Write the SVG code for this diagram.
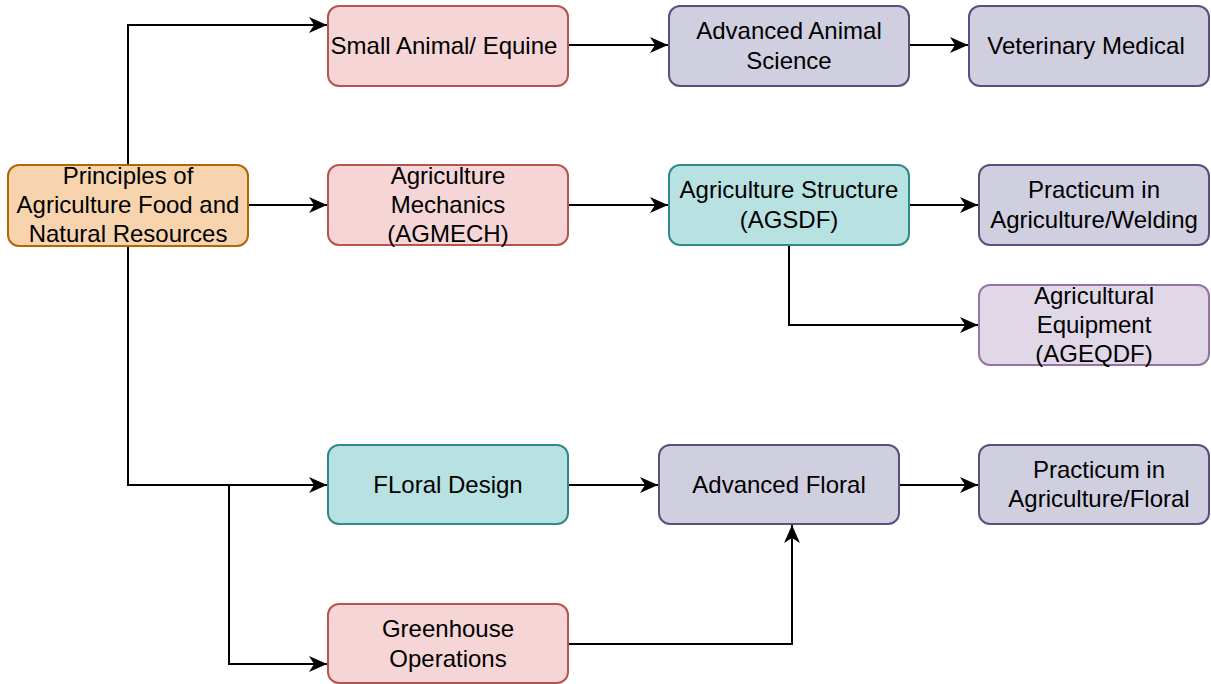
<svg xmlns="http://www.w3.org/2000/svg" width="1211" height="684" viewBox="0 0 1211 684">
<style>
  .box{stroke-width:2}
  .pink{fill:#f5d5d6;stroke:#b85450}
  .orange{fill:#f7d4ae;stroke:#b46504}
  .gray{fill:#d0cfe0;stroke:#56517e}
  .teal{fill:#b8e1e1;stroke:#2f8a8c}
  .lav{fill:#e0d8e7;stroke:#9673a6}
  text{font-family:"Liberation Sans",Arial,Helvetica,sans-serif;font-size:24px;fill:#000;text-anchor:middle}
  .edge{fill:none;stroke:#000;stroke-width:2}
</style>
<defs>
  <marker id="arr" markerWidth="20" markerHeight="18" refX="18" refY="9" orient="auto" markerUnits="userSpaceOnUse">
    <path d="M0,1 L18,9 L0,17 L5,9 Z" fill="#000"/>
  </marker>
</defs>
<rect width="1211" height="684" fill="#fff"/>
<g id="connectors">
  <path class="edge" d="M128,165 V25 H327" marker-end="url(#arr)"/>
  <path class="edge" d="M248,205 H327" marker-end="url(#arr)"/>
  <path class="edge" d="M128,246 V485 H327" marker-end="url(#arr)"/>
  <path class="edge" d="M229,485 V664 H327" marker-end="url(#arr)"/>
  <path class="edge" d="M568,45 H668" marker-end="url(#arr)"/>
  <path class="edge" d="M909,45 H968" marker-end="url(#arr)"/>
  <path class="edge" d="M568,205 H668" marker-end="url(#arr)"/>
  <path class="edge" d="M909,205 H978" marker-end="url(#arr)"/>
  <path class="edge" d="M789,245 V325 H978" marker-end="url(#arr)"/>
  <path class="edge" d="M568,485 H658" marker-end="url(#arr)"/>
  <path class="edge" d="M899,485 H978" marker-end="url(#arr)"/>
  <path class="edge" d="M568,644 H792 V525" marker-end="url(#arr)"/>
</g>
<g id="principles">
  <rect class="box orange" x="8" y="165" width="240" height="81" rx="11"/>
  <text x="128" y="184">Principles of</text>
  <text x="128" y="213">Agriculture Food and</text>
  <text x="128" y="242">Natural Resources</text>
</g>
<g id="small-animal">
  <rect class="box pink" x="328" y="6" width="240" height="80" rx="11"/>
  <text x="444" y="54">Small Animal/ Equine</text>
</g>
<g id="adv-animal">
  <rect class="box gray" x="669" y="6" width="240" height="80" rx="11"/>
  <text x="789" y="39">Advanced Animal</text>
  <text x="789" y="69">Science</text>
</g>
<g id="veterinary">
  <rect class="box gray" x="969" y="6" width="240" height="80" rx="11"/>
  <text x="1086" y="54">Veterinary Medical</text>
</g>
<g id="agmech">
  <rect class="box pink" x="328" y="165" width="240" height="80" rx="11"/>
  <text x="448" y="184">Agriculture</text>
  <text x="448" y="213">Mechanics</text>
  <text x="448" y="242">(AGMECH)</text>
</g>
<g id="agsdf">
  <rect class="box teal" x="669" y="165" width="240" height="80" rx="11"/>
  <text x="789" y="198">Agriculture Structure</text>
  <text x="789" y="228">(AGSDF)</text>
</g>
<g id="practicum-welding">
  <rect class="box gray" x="979" y="165" width="230" height="80" rx="11"/>
  <text x="1094" y="198">Practicum in</text>
  <text x="1094" y="228">Agriculture/Welding</text>
</g>
<g id="ageqdf">
  <rect class="box lav" x="979" y="285" width="230" height="80" rx="11"/>
  <text x="1094" y="304">Agricultural</text>
  <text x="1094" y="333">Equipment</text>
  <text x="1094" y="362">(AGEQDF)</text>
</g>
<g id="floral-design">
  <rect class="box teal" x="328" y="445" width="240" height="79" rx="11"/>
  <text x="448" y="493">FLoral Design</text>
</g>
<g id="adv-floral">
  <rect class="box gray" x="659" y="445" width="240" height="79" rx="11"/>
  <text x="779" y="493">Advanced Floral</text>
</g>
<g id="practicum-floral">
  <rect class="box gray" x="979" y="445" width="230" height="79" rx="11"/>
  <text x="1099" y="478">Practicum in</text>
  <text x="1099" y="507">Agriculture/Floral</text>
</g>
<g id="greenhouse">
  <rect class="box pink" x="328" y="604" width="240" height="79" rx="11"/>
  <text x="448" y="637">Greenhouse</text>
  <text x="448" y="667">Operations</text>
</g>
</svg>
